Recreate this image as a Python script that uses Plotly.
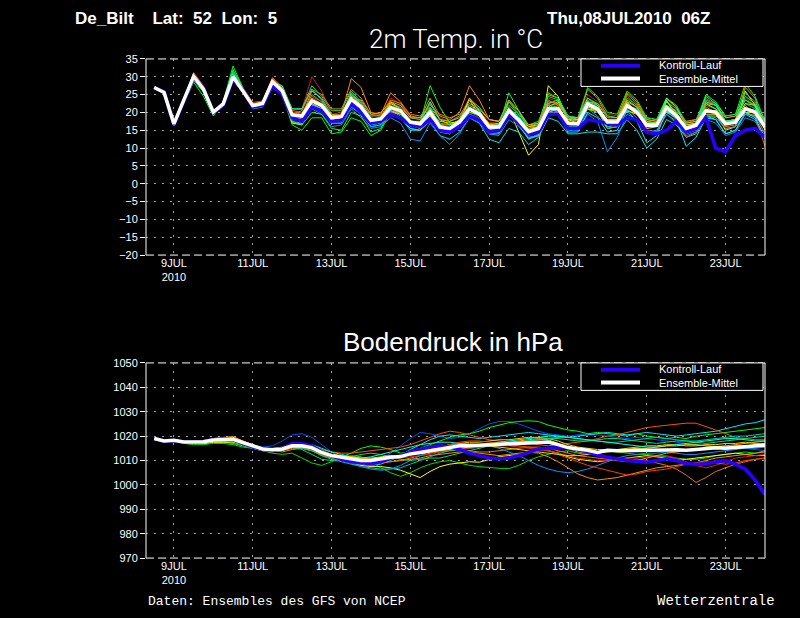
import pandas as pd
import plotly.graph_objects as go

# 6-hourly forecast steps, GFS ensemble run of 08JUL2010 06Z
times = pd.date_range("2010-07-08 12:00", periods=63, freq="6h")

tick_days = ["2010-07-09", "2010-07-11", "2010-07-13", "2010-07-15",
             "2010-07-17", "2010-07-19", "2010-07-21", "2010-07-23"]
tick_labels = ["9JUL<br>2010", "11JUL", "13JUL", "15JUL", "17JUL", "19JUL", "21JUL", "23JUL"]

# ---- 2m temperature (deg C) ----
t_mean = [27.0,25.6,16.8,23.3,30.1,26.5,20.1,22.4,30.0,26.0, 21.9,22.5,28.6,26.0,19.3,19.0,23.3,22.0,18.5,18.9,
          23.7,21.5,17.8,18.2,21.4,20.5,17.3,16.8,20.1,15.9, 15.5,17.3,21.0,19.6,15.9,15.9,20.5,17.8,14.6,15.5,
          21.0,21.0,17.0,16.8,22.4,21.0,17.3,17.3,21.9,20.1, 16.4,16.4,21.4,19.1,15.5,16.4,20.5,20.1,16.8,17.3,
          21.0,20.1,15.9]
t_ctrl = [27.0,25.8,16.5,23.0,29.8,26.8,20.0,22.0,29.5,26.3, 21.5,22.0,27.5,25.0,18.5,17.5,21.5,20.5,17.5,17.8,
          22.5,20.0,17.0,17.5,19.5,18.5,16.5,16.0,18.0,15.0, 14.5,16.0,19.0,18.0,14.5,15.0,19.5,17.0,14.0,14.5,
          19.5,19.5,15.5,15.5,18.0,17.5,17.0,16.5,18.5,18.0, 14.5,14.0,15.0,17.5,14.5,15.5,18.5,10.0,9.0,13.5,
          15.0,15.5,13.0]
t01 = [26.8,25.4,16.5,23.6,30.8,27.0,20.5,22.0,30.4,26.5, 22.4,23.0,29.5,27.0, 20.5,21.0,30.0,26.0,19.5,20.0,
       24.5,23.0,19.0,19.5,24.0,22.5,18.5,18.0,23.0,18.5, 17.5,19.0,24.0,21.5,17.0,17.5,23.5,20.0,16.5,17.0,
       24.0,23.0,19.0,18.5,25.0,23.0,19.5,19.0,24.5,22.0, 18.5,18.0,24.0,21.0,17.0,18.0,23.5,22.0,18.5,19.0,
       24.0,22.0,17.5]
t02 = [27.0,25.8,16.2,23.0,30.5,26.8,19.8,22.6,30.8,26.2, 22.0,22.8,28.8,26.5, 19.0,19.5,24.0,22.5,19.0,19.5,
       29.5,27.0,20.0,19.5,25.5,23.0,19.0,18.5,24.0,19.0, 18.0,20.0,27.5,23.5,18.0,17.5,23.0,20.5,16.0,16.5,
       25.0,24.0,19.0,18.0,26.5,24.0,19.0,18.5,25.5,23.0, 18.0,17.5,24.0,21.5,16.0,17.0,23.0,22.0,17.5,18.0,
       27.0,24.0,15.0]
t03 = [26.8,25.5,16.9,23.5,29.8,26.0,20.3,22.8,29.6,25.8, 21.5,22.0,27.5,25.5, 17.0,16.5,22.5,21.0,17.0,18.0,
       24.5,21.0,17.0,18.5,23.0,21.0,16.5,15.5,21.0,15.0, 14.5,17.5,23.5,19.5,15.0,14.5,21.0,14.5,8.0,11.0,
       27.5,24.5,17.5,16.5,22.0,20.5,15.5,16.0,23.0,20.0, 15.5,16.0,23.5,19.0,14.5,15.5,21.0,19.5,15.0,16.0,
       26.0,22.0,15.0]
t04 = [27.0,25.5,17.0,22.5,28.5,24.5,19.0,23.0,33.0,27.0, 21.0,21.5,27.0,25.0, 16.5,15.0,18.5,18.5,14.0,14.5,
       18.5,17.5,13.5,15.0,20.0,19.5,16.5,17.0,27.5,21.5, 17.0,17.5,19.5,18.5,15.0,15.5,23.0,19.5,16.0,17.0,
       25.5,24.0,19.0,18.5,27.0,24.5,20.0,19.5,26.0,23.5, 18.5,18.0,24.0,22.0,17.0,17.5,25.0,23.0,19.0,19.5,
       28.0,24.5,17.5]
t05 = [27.2,25.7,16.6,23.2,29.5,26.0,20.5,22.2,29.0,25.5, 21.5,22.0,27.5,25.5, 19.5,18.5,21.5,20.5,17.0,17.0,
       21.5,19.5,16.0,16.5,19.5,18.5,15.0,15.0,17.5,13.5, 12.5,14.5,18.5,17.0,12.5,11.5,15.5,14.5,11.0,13.0,
       18.5,17.5,14.0,14.0,14.5,14.5,14.0,14.0,18.0,15.0, 10.0,12.5,18.0,16.5,13.0,14.0,19.0,18.0,14.0,15.0,
       19.5,18.0,12.5]
t06 = [26.9,25.6,16.7,23.4,30.0,26.4,20.0,22.3,29.8,25.9, 21.8,22.3,28.0,25.5, 17.5,17.0,21.0,19.5,16.0,16.5,
       21.0,18.5,15.5,16.0,18.5,17.0,12.5,12.0,17.0,13.5, 11.0,14.0,18.5,17.0,14.0,13.5,18.0,16.0,13.0,13.5,
       21.0,20.0,15.5,15.0,19.5,17.5,9.0,13.0,19.5,18.0, 15.0,14.5,19.5,17.0,13.5,14.5,18.0,17.0,13.5,14.5,
       18.5,17.5,12.5]
t07 = [27.1,25.8,16.4,23.6,31.0,27.2,20.6,22.0,30.5,26.8, 22.5,22.8,29.5,27.0, 20.0,19.5,23.0,22.0,18.0,18.5,
       22.5,21.5,17.0,17.5,20.0,20.0,16.5,15.5,19.0,14.5, 14.0,16.0,21.5,20.5,14.5,15.0,20.0,17.0,12.5,14.0,
       22.5,22.0,16.5,16.0,23.5,21.5,16.0,16.5,22.5,20.5, 15.0,14.5,21.5,19.0,13.0,14.5,20.5,19.5,15.5,16.0,
       22.0,19.0,10.5]
t08 = [27.0,25.6,17.2,23.0,29.0,25.8,19.5,22.8,31.5,26.8, 22.0,22.5,27.5,26.5, 21.0,21.0,27.5,24.5,20.5,20.5,
       26.0,23.0,19.0,19.0,22.5,21.5,18.5,18.0,22.5,18.0, 17.5,19.0,23.5,21.5,18.0,17.5,22.0,19.5,16.5,17.5,
       24.5,23.5,19.0,18.5,24.0,22.5,19.0,18.5,24.0,22.0, 18.5,18.0,23.0,21.0,17.5,18.0,23.5,22.5,19.0,19.5,
       25.5,23.0,18.0]
t09 = [26.9,25.5,16.6,23.2,30.3,26.6,20.2,22.5,30.2,26.3, 22.2,22.7,28.0,25.8, 18.0,18.5,23.0,21.5,19.0,19.5,
       25.0,22.0,18.0,18.5,20.5,19.5,17.5,17.0,19.0,16.5, 16.5,17.5,24.0,20.5,16.5,16.0,19.0,17.0,14.0,15.0,
       20.0,20.0,18.0,18.0,21.0,20.5,17.5,17.5,20.5,19.5, 17.0,17.0,20.0,18.5,16.0,16.5,19.0,19.0,17.0,17.5,
       20.0,19.0,16.0]
t10 = [27.0,25.7,16.9,23.3,29.6,26.2,20.0,22.6,29.5,25.6, 21.6,22.2,28.2,25.8, 19.5,19.0,25.0,23.0,18.5,18.0,
       23.0,21.0,17.0,17.5,21.5,20.5,16.5,16.0,21.0,16.0, 15.0,16.5,20.0,19.0,15.5,15.5,21.5,18.0,13.5,14.5,
       20.0,21.0,16.0,16.0,21.5,20.5,16.0,16.5,22.0,20.0, 16.0,16.0,22.0,19.5,15.0,16.0,22.0,21.0,17.0,17.5,
       22.5,21.0,16.0]
t11 = [27.1,25.5,16.9,23.0,30.2,26.8,20.3,22.2,30.0,26.0, 22.0,22.5,29.0,26.5, 19.0,18.5,22.0,22.5,19.0,19.5,
       25.0,22.5,18.5,18.0,20.5,20.0,17.5,17.5,21.0,17.0, 16.5,17.0,21.0,19.5,17.0,16.5,20.5,18.0,15.0,16.0,
       21.0,21.0,18.0,17.5,22.5,21.0,18.0,18.0,25.0,22.5, 17.5,17.0,20.5,19.0,16.0,17.0,20.0,20.5,17.5,18.0,
       21.0,20.0,16.0]
t12 = [26.9,25.7,16.7,23.4,29.9,26.3,20.0,22.5,30.5,26.2, 21.8,22.6,28.5,25.9, 18.5,19.0,22.0,21.0,18.0,18.5,
       22.5,20.5,17.5,18.0,22.5,21.0,17.5,16.5,19.0,15.0, 15.5,18.0,21.0,19.0,15.0,16.0,20.5,18.5,15.5,16.0,
       21.5,23.0,18.0,17.0,21.5,20.5,17.5,18.0,23.5,21.5, 17.0,16.5,23.0,20.0,15.5,16.5,22.5,21.0,17.5,18.0,
       22.5,22.0,16.5]
t13 = [27.0,25.6,16.8,23.2,29.7,26.0,20.4,22.3,29.5,25.5, 21.0,22.0,28.0,25.5, 18.0,17.5,21.5,20.0,17.0,17.0,
       22.0,19.5,16.0,16.5,20.0,18.5,15.5,15.0,18.5,14.5, 14.0,16.0,19.5,18.0,14.5,14.5,19.0,16.5,13.0,13.5,
       22.5,20.0,15.0,15.0,21.0,19.0,15.5,16.0,21.0,18.5, 14.5,15.0,19.5,17.5,14.0,15.0,19.0,18.5,15.5,16.0,
       19.5,19.0,14.0]
t14 = [27.0,25.5,16.7,23.5,31.2,27.5,20.8,22.0,30.8,27.0, 22.8,23.2,29.8,27.2, 20.5,20.0,24.5,23.0,19.0,19.5,
       24.0,22.0,18.0,18.5,22.0,21.0,17.5,17.0,20.0,16.0, 15.5,17.0,21.0,19.5,16.0,16.0,21.5,18.5,14.5,15.0,
       21.5,21.0,17.0,16.5,22.5,21.5,17.0,17.5,22.5,20.5, 16.5,16.0,21.0,19.0,15.0,16.0,24.0,22.0,17.0,17.0,
       21.0,19.5,14.0]
t15 = [26.9,25.7,16.5,23.4,30.6,26.9,20.4,22.1,30.3,26.7, 22.4,22.9,29.2,26.8, 19.5,19.0,26.0,24.0,19.5,19.0,
       23.5,23.5,19.5,20.0,23.0,22.0,18.5,18.5,21.5,18.0, 17.5,18.5,22.5,21.0,18.0,17.5,23.5,20.5,16.5,17.0,
       23.0,22.5,18.5,18.5,23.0,22.5,18.5,18.5,23.0,21.5, 18.0,17.5,22.0,20.5,17.0,17.5,22.5,22.0,18.5,19.0,
       23.5,22.0,17.5]
t16 = [27.0,25.6,17.0,23.1,29.3,25.9,19.8,22.7,31.0,26.5, 21.5,22.0,28.5,27.5, 21.0,21.0,26.5,23.5,19.0,19.0,
       25.5,22.5,18.0,18.0,21.0,20.5,17.0,17.0,23.0,18.0, 16.5,18.0,22.0,20.5,16.5,16.5,21.0,19.0,15.0,16.0,
       22.5,23.5,18.5,18.0,24.0,22.0,17.5,17.0,22.0,21.0, 17.5,17.0,24.0,21.5,16.5,17.0,24.5,22.5,17.5,18.0,
       24.5,22.5,17.0]
t17 = [27.0,25.4,16.8,23.4,30.0,26.4,20.1,22.6,29.8,26.0, 22.0,22.6,28.5,26.0, 17.0,17.0,23.5,22.0,18.0,18.5,
       23.0,21.5,18.0,18.0,21.0,20.0,17.5,17.5,20.0,17.5, 17.0,17.5,20.0,19.5,16.5,17.0,20.0,18.5,16.0,16.5,
       20.0,20.0,18.0,18.0,21.0,20.0,18.0,18.0,20.5,19.5, 17.0,17.0,20.5,19.0,16.5,17.0,19.5,19.5,17.0,17.5,
       20.0,20.0,16.5]
t18 = [27.0,25.7,16.6,23.3,30.4,26.7,20.2,22.3,30.1,26.1, 22.1,22.6,28.8,26.3, 19.5,20.5,26.5,25.0,21.0,21.0,
       26.5,24.0,19.5,19.0,23.5,22.5,19.5,19.0,22.0,19.5, 18.5,19.5,21.0,20.0,16.5,16.0,19.0,18.0,15.5,16.5,
       23.5,22.0,18.5,17.5,22.0,21.0,17.0,17.0,21.5,19.5, 16.0,16.5,20.5,19.5,17.5,18.0,21.5,20.0,16.0,16.5,
       21.5,20.5,16.0]
t19 = [27.0,25.6,16.9,23.0,29.2,25.7,19.6,22.9,32.0,26.9, 21.3,21.8,27.3,25.2, 17.5,16.5,20.0,19.5,15.5,15.0,
       20.0,19.0,14.5,15.5,21.0,20.0,16.0,16.0,21.5,16.5, 15.5,17.0,21.5,19.5,15.5,16.0,25.5,20.5,15.0,16.0,
       22.0,21.5,17.0,17.0,23.0,22.0,17.5,17.0,22.5,20.5, 16.5,16.5,22.0,20.0,15.5,16.5,23.0,22.0,17.5,18.0,
       23.5,21.5,15.5]
t20 = [27.1,25.6,16.7,23.2,29.6,26.1,20.3,22.4,29.3,25.7, 21.4,22.1,27.8,25.4, 18.5,18.0,22.5,21.0,17.5,17.5,
       23.0,20.5,16.5,17.0,20.5,19.0,15.5,15.0,19.5,15.0, 14.0,16.0,19.5,17.5,14.0,14.0,19.5,16.5,12.5,13.5,
       20.5,19.5,14.5,14.5,20.0,18.5,14.5,15.0,20.5,17.5, 11.5,13.5,20.5,18.0,10.5,13.0,18.5,18.0,14.0,15.0,
       20.0,18.5,13.0]
temp_members = [t01, t02, t03, t04, t05, t06, t07, t08, t09, t10,
                t11, t12, t13, t14, t15, t16, t17, t18, t19, t20]
temp_colors = ["#c81e1e", "#ff8c00", "#ffff00", "#00ff00", "#00e6e6", "#0096ff", "#ff5000", "#00dc78",
               "#ffc800", "#00c8aa", "#e67800", "#a0ff00", "#00b4ff", "#ff3c00", "#ffa000", "#00ffb4",
               "#dcdc00", "#ff7800", "#00ff50", "#1ee6ff"]

# ---- surface pressure (hPa) ----
p_mean = [1019.0,1018.0,1018.3,1017.6,1017.6,1017.7,1018.4,1018.7,1018.7,1017.3, 1016.0,1014.7,1014.4,1014.7,1016.0,1016.0,1015.3,1013.3,1012.0,1011.3,
          1010.7,1010.0,1010.0,1010.7,1011.3,1011.6,1012.7,1013.3,1014.0,1014.7, 1015.6,1016.0,1016.0,1016.2,1016.6,1016.7,1016.8,1017.0,1017.5,1017.7,
          1017.6,1016.5,1015.3,1014.7,1014.2,1013.3,1014.2,1014.0,1014.0,1014.0, 1014.0,1014.2,1014.3,1014.4,1014.2,1014.5,1014.8,1015.2,1015.0,1015.4,
          1015.6,1016.0,1016.3]
p_ctrl = [1019.0,1018.0,1018.2,1017.5,1017.5,1017.8,1018.5,1018.8,1018.5,1017.0, 1015.5,1014.5,1014.0,1015.0,1017.0,1017.0,1016.0,1013.5,1012.0,1010.5,
          1009.5,1009.0,1008.7,1009.5,1011.0,1012.0,1013.5,1014.5,1015.5,1016.0, 1015.5,1014.5,1013.0,1012.0,1011.0,1010.7,1011.0,1012.0,1013.5,1014.7,
          1015.0,1015.3,1015.3,1014.5,1013.3,1012.3,1011.3,1010.5,1010.0,1009.7, 1009.3,1010.0,1010.7,1010.0,1008.7,1008.5,1008.7,1009.5,1010.0,1008.5,
          1006.5,1002.0,996.0]
p01 = [1019.2,1018.3,1018.0,1017.2,1017.8,1018.0,1018.8,1019.5,1019.0,1017.5, 1016.5,1015.5,1016.0,1018.0,1020.5,1021.0,1019.5,1016.5,1013.5,1011.0,
       1009.0,1008.0,1008.5,1010.5,1013.0,1016.0,1019.0,1021.5,1021.0,1020.0, 1019.0,1019.5,1021.0,1023.0,1025.0,1026.0,1026.0,1025.0,1023.5,1022.0,
       1021.0,1020.5,1020.0,1020.5,1021.0,1020.5,1020.0,1019.5,1019.0,1019.5, 1019.0,1018.5,1018.0,1017.5,1017.0,1016.5,1016.0,1016.5,1016.0,1015.5,
       1015.0,1014.5,1014.0]
p02 = [1019.0,1017.8,1018.5,1017.8,1017.0,1016.8,1017.5,1017.5,1017.0,1016.0, 1015.0,1014.5,1015.0,1015.5,1015.5,1015.0,1014.0,1012.0,1011.0,1011.5,
       1013.0,1015.0,1016.0,1015.5,1014.5,1013.0,1013.5,1015.0,1016.5,1018.0, 1019.5,1020.5,1021.0,1022.0,1023.5,1024.5,1025.5,1026.0,1026.3,1026.0,
       1024.5,1023.5,1022.5,1022.0,1021.0,1021.5,1021.0,1020.5,1020.0,1021.0, 1020.0,1019.5,1019.0,1019.5,1019.0,1020.0,1020.5,1021.0,1021.5,1022.0,
       1022.5,1023.0,1023.5]
p03 = [1019.0,1018.2,1018.0,1017.0,1016.5,1016.5,1017.0,1017.0,1016.5,1015.5, 1015.0,1014.0,1013.0,1012.5,1013.0,1011.0,1009.0,1008.0,1009.5,1011.0,
       1012.0,1011.5,1009.5,1007.0,1005.0,1003.5,1005.0,1007.0,1008.5,1009.5, 1010.0,1009.0,1008.0,1007.5,1007.0,1006.8,1006.7,1008.0,1010.0,1011.5,
       1012.5,1013.5,1014.0,1013.0,1012.5,1013.0,1014.0,1013.5,1013.0,1012.5, 1012.5,1012.0,1011.5,1011.0,1010.5,1010.5,1011.0,1012.0,1012.5,1013.0,
       1013.5,1013.0,1014.0]
p04 = [1019.0,1018.0,1018.5,1017.8,1017.2,1017.0,1017.5,1017.5,1017.5,1016.5, 1015.0,1014.0,1013.5,1014.5,1015.5,1015.5,1015.0,1013.5,1012.0,1010.5,
       1009.0,1008.0,1007.5,1007.5,1007.0,1006.0,1004.5,1003.0,1005.5,1007.5, 1008.5,1009.0,1009.5,1009.3,1010.5,1011.5,1012.0,1012.5,1013.5,1014.5,
       1014.0,1013.0,1011.5,1010.5,1010.0,1009.5,1010.0,1010.5,1011.0,1011.5, 1012.0,1011.5,1011.0,1010.5,1010.5,1011.0,1011.5,1012.0,1012.5,1013.0,
       1012.5,1012.0,1012.0]
p05 = [1019.0,1018.0,1018.2,1017.5,1017.8,1018.0,1018.8,1019.2,1019.0,1017.8, 1016.5,1015.0,1014.5,1014.5,1015.5,1016.0,1015.5,1013.0,1011.5,1010.0,
       1009.0,1008.5,1008.0,1008.5,1010.0,1012.0,1014.5,1016.5,1018.5,1020.0, 1020.5,1020.0,1019.5,1019.0,1019.5,1020.0,1020.5,1021.0,1021.5,1021.0,
       1020.5,1020.0,1019.5,1020.0,1020.5,1021.0,1021.5,1021.0,1020.5,1021.0, 1021.5,1021.0,1020.5,1020.0,1020.5,1021.0,1021.5,1022.0,1023.0,1024.0,
       1025.0,1025.5,1026.7]
p06 = [1019.0,1018.2,1018.0,1017.5,1017.5,1018.0,1019.0,1019.5,1019.5,1018.0, 1016.5,1015.0,1014.0,1013.5,1014.5,1015.0,1014.0,1012.5,1011.5,1011.0,
       1010.5,1010.0,1009.5,1009.0,1009.5,1010.0,1010.5,1011.0,1012.0,1012.5, 1013.0,1013.5,1013.5,1013.0,1012.5,1012.0,1012.5,1013.0,1013.5,1013.0,
       1011.5,1009.5,1007.0,1004.5,1003.0,1002.0,1002.5,1003.0,1004.0,1005.0, 1006.0,1007.0,1007.5,1008.0,1008.5,1009.0,1010.0,1011.0,1011.5,1012.0,
       1012.5,1013.0,1013.5]
p07 = [1019.0,1018.0,1018.3,1017.8,1017.8,1018.0,1018.8,1019.0,1019.0,1017.8, 1016.5,1015.0,1014.5,1015.0,1016.5,1016.5,1016.0,1014.5,1013.5,1013.0,
       1013.0,1013.5,1014.0,1014.5,1015.0,1015.5,1016.5,1018.0,1019.5,1021.0, 1022.0,1021.5,1020.5,1019.5,1018.5,1018.0,1017.5,1017.5,1017.0,1016.5,
       1016.0,1016.5,1017.0,1017.5,1018.0,1019.0,1020.0,1020.5,1021.5,1022.5, 1023.5,1024.0,1024.5,1025.0,1025.3,1025.3,1024.0,1022.5,1021.0,1019.5,
       1019.0,1018.5,1018.5]
p08 = [1019.0,1018.0,1018.0,1017.5,1017.5,1017.5,1018.2,1018.5,1018.5,1017.0, 1015.5,1014.5,1014.0,1014.0,1015.0,1015.0,1014.5,1012.5,1011.0,1010.0,
       1009.0,1008.5,1008.5,1009.0,1009.5,1010.0,1011.0,1012.0,1013.0,1013.5, 1014.0,1014.5,1014.0,1013.5,1013.5,1014.0,1014.5,1015.0,1015.5,1015.5,
       1015.0,1014.0,1013.0,1012.0,1011.5,1011.0,1010.5,1010.0,1010.0,1010.5, 1010.0,1009.0,1008.0,1006.5,1004.0,1001.0,1003.0,1005.5,1007.0,1008.5,
       1009.5,1010.5,1011.0]
p09 = [1019.0,1018.2,1018.5,1017.8,1017.5,1017.8,1018.5,1019.0,1019.0,1017.5, 1016.0,1014.5,1014.0,1014.5,1016.0,1016.5,1016.0,1014.0,1012.5,1011.5,
       1011.0,1010.5,1010.5,1011.0,1011.5,1012.0,1013.0,1014.0,1014.5,1015.5, 1016.5,1017.0,1017.5,1017.5,1018.0,1018.5,1018.5,1019.0,1019.5,1019.5,
       1019.0,1018.0,1016.5,1015.5,1015.0,1014.5,1014.5,1014.5,1015.0,1015.5, 1016.0,1016.0,1016.5,1016.5,1016.0,1016.0,1016.5,1016.5,1017.0,1017.0,
       1017.5,1017.0,1017.0]
p10 = [1019.0,1018.0,1018.3,1017.5,1017.5,1017.5,1018.0,1018.5,1018.5,1017.2, 1016.0,1014.8,1014.5,1014.8,1015.5,1015.0,1014.0,1012.0,1010.5,1009.5,
       1008.5,1007.5,1007.0,1006.5,1006.5,1007.0,1008.5,1010.0,1011.5,1013.0, 1014.0,1014.5,1015.0,1015.5,1016.0,1016.5,1017.0,1017.5,1018.0,1018.5,
       1019.0,1019.5,1019.5,1019.0,1018.5,1018.0,1017.5,1017.5,1018.0,1018.5, 1019.0,1019.5,1019.0,1018.5,1018.0,1018.0,1018.5,1019.0,1019.5,1020.0,
       1020.0,1020.5,1021.0]
p11 = [1019.0,1018.0,1018.2,1017.6,1017.7,1017.8,1018.5,1018.8,1018.8,1017.5, 1016.0,1014.5,1014.0,1014.5,1016.0,1016.0,1015.0,1013.0,1011.5,1010.5,
       1009.5,1009.0,1009.5,1010.5,1011.0,1011.0,1011.5,1012.0,1012.5,1013.5, 1014.5,1015.0,1015.0,1015.5,1016.0,1016.0,1016.0,1015.5,1015.0,1014.5,
       1014.0,1013.0,1012.0,1011.0,1010.5,1010.0,1010.0,1010.5,1011.0,1011.0, 1011.5,1012.0,1012.0,1011.0,1009.5,1008.0,1007.0,1008.0,1009.5,1011.0,
       1011.5,1012.0,1012.5]
p12 = [1019.0,1018.1,1018.4,1017.7,1017.6,1017.6,1018.3,1018.6,1018.6,1017.3, 1016.0,1015.0,1014.8,1015.5,1017.0,1017.0,1016.0,1014.0,1012.0,1010.5,
       1009.0,1007.5,1006.5,1006.0,1006.5,1008.0,1010.0,1012.0,1014.0,1015.5, 1016.5,1017.0,1017.0,1016.5,1016.0,1015.0,1013.5,1012.0,1010.0,1008.0,
       1006.5,1005.5,1005.0,1005.5,1006.5,1008.0,1009.5,1011.0,1012.0,1012.5, 1013.0,1013.0,1013.5,1013.0,1012.5,1012.5,1013.0,1013.5,1014.0,1014.5,
       1015.0,1015.0,1015.5]
p13 = [1019.0,1018.0,1018.3,1017.7,1017.5,1017.3,1017.8,1018.0,1018.0,1016.8, 1015.5,1014.5,1014.5,1015.0,1015.5,1014.5,1012.5,1010.5,1010.0,1010.5,
       1011.5,1012.5,1013.0,1012.5,1011.5,1010.5,1010.0,1010.5,1011.0,1011.0, 1012.0,1013.0,1014.0,1015.0,1016.0,1016.5,1017.0,1017.5,1018.0,1018.5,
       1019.0,1019.0,1018.5,1018.0,1018.0,1018.5,1019.0,1019.0,1018.5,1018.0, 1017.5,1017.0,1017.5,1018.0,1018.0,1017.5,1017.0,1017.5,1018.0,1018.5,
       1019.0,1019.5,1020.0]
p14 = [1019.0,1018.1,1018.1,1017.5,1017.9,1018.2,1019.0,1019.5,1019.8,1018.0, 1016.2,1014.8,1014.5,1014.3,1015.5,1016.0,1015.8,1014.0,1012.5,1011.8,
       1011.0,1010.5,1010.5,1011.0,1011.5,1012.0,1013.0,1013.5,1014.5,1015.0, 1015.5,1016.0,1016.5,1016.5,1016.5,1017.0,1017.5,1018.0,1018.5,1019.0,
       1018.5,1017.0,1015.0,1013.5,1013.0,1012.0,1011.0,1010.0,1009.5,1010.0, 1011.0,1012.0,1013.0,1013.5,1014.0,1014.5,1015.0,1015.5,1016.0,1016.5,
       1017.0,1017.5,1018.0]
p15 = [1019.0,1017.9,1018.2,1017.5,1017.4,1017.5,1018.2,1018.5,1018.5,1017.0, 1015.5,1014.2,1013.8,1014.2,1015.8,1016.5,1016.5,1015.0,1013.5,1012.5,
       1011.5,1011.0,1011.5,1012.5,1013.5,1014.5,1015.5,1016.5,1017.0,1017.5, 1017.5,1017.0,1016.5,1016.5,1017.0,1017.5,1018.0,1018.5,1019.0,1019.5,
       1020.0,1020.0,1019.5,1019.0,1018.5,1018.0,1017.5,1017.0,1016.5,1016.0, 1015.5,1015.5,1016.0,1016.5,1017.0,1017.5,1018.0,1018.5,1019.0,1019.0,
       1018.5,1018.0,1018.0]
p16 = [1019.0,1018.0,1018.4,1017.8,1017.6,1017.7,1018.5,1018.9,1018.9,1017.6, 1016.3,1015.0,1014.6,1014.8,1016.3,1016.5,1015.5,1013.5,1012.5,1012.0,
       1011.5,1011.0,1010.5,1010.5,1011.0,1011.5,1012.5,1013.5,1014.5,1015.5, 1016.5,1017.5,1018.0,1018.0,1017.5,1017.0,1016.5,1016.0,1015.5,1015.0,
       1014.0,1012.5,1011.0,1009.5,1008.0,1007.0,1006.0,1005.0,1004.0,1004.5, 1005.5,1006.0,1006.5,1007.5,1008.5,1009.0,1009.5,1009.0,1008.5,1009.0,
       1010.0,1010.5,1011.0]
p17 = [1019.0,1018.0,1018.2,1017.6,1017.6,1017.6,1018.3,1018.6,1018.6,1017.3, 1016.0,1014.7,1014.4,1014.6,1015.5,1015.5,1015.0,1013.5,1012.5,1012.0,
       1011.5,1011.0,1011.0,1011.5,1012.0,1012.0,1012.5,1013.0,1013.5,1014.0, 1014.5,1015.0,1015.5,1016.0,1016.0,1015.5,1015.0,1014.5,1014.0,1013.5,
       1013.0,1012.5,1012.0,1012.0,1012.5,1013.0,1013.5,1014.0,1014.5,1015.0, 1015.0,1015.5,1016.0,1016.0,1016.5,1016.5,1016.0,1015.5,1015.5,1016.0,
       1016.0,1016.5,1016.5]
pres_members = [p01, p02, p03, p04, p05, p06, p07, p08, p09, p10, p11, p12, p13, p14, p15, p16, p17]
pres_colors = ["#0050ff", "#00ff00", "#00dc00", "#ffff00", "#00e6ff", "#ff8c00", "#ff5000", "#e67800",
               "#ffc800", "#00c8aa", "#dc1e1e", "#0096ff", "#00dc78", "#ffa000", "#00ffc8", "#ff3c00", "#dcdc00"]

legend_names = ["Kontroll-Lauf", "Ensemble-Mittel"]

CTRL_COLOR = "#2800ff"
W, H = 800, 618
x_dom = [146 / W, 765 / W]
top_dom = [(H - 254) / H, (H - 54) / H]
bot_dom = [(H - 563) / H, (H - 364) / H]

fig = go.Figure()

for vals, col in zip(temp_members, temp_colors):
    fig.add_trace(go.Scatter(x=times, y=vals, mode="lines", line=dict(color=col, width=1),
                             showlegend=False, hoverinfo="skip", xaxis="x", yaxis="y"))
fig.add_trace(go.Scatter(x=times, y=t_ctrl, mode="lines", name=legend_names[0], showlegend=False,
                         line=dict(color=CTRL_COLOR, width=3.5), xaxis="x", yaxis="y"))
fig.add_trace(go.Scatter(x=times, y=t_mean, mode="lines", name=legend_names[1], showlegend=False,
                         line=dict(color="white", width=3.5), xaxis="x", yaxis="y"))

for vals, col in zip(pres_members, pres_colors):
    fig.add_trace(go.Scatter(x=times, y=vals, mode="lines", line=dict(color=col, width=1),
                             showlegend=False, hoverinfo="skip", xaxis="x2", yaxis="y2"))
fig.add_trace(go.Scatter(x=times, y=p_ctrl, mode="lines", name=legend_names[0], showlegend=False,
                         line=dict(color=CTRL_COLOR, width=3.5), xaxis="x2", yaxis="y2"))
fig.add_trace(go.Scatter(x=times, y=p_mean, mode="lines", name=legend_names[1], showlegend=False,
                         line=dict(color="white", width=3.5), xaxis="x2", yaxis="y2"))

tickfont = dict(family="Liberation Sans, Arial, sans-serif", size=11, color="white")
grid = dict(showgrid=True, gridcolor="#a0a0a0", griddash="2px,6px", gridwidth=1, zeroline=False)
xcommon = dict(type="date", range=["2010-07-08 07:00", "2010-07-24 00:00"],
               tickvals=tick_days, ticktext=tick_labels, tickfont=tickfont,
               ticks="", showline=False, domain=x_dom, **grid)
ycommon = dict(tickfont=tickfont, ticks="outside", ticklen=5, tickcolor="white",
               showline=False, **grid)

fig.update_layout(
    width=W, height=H,
    paper_bgcolor="black", plot_bgcolor="black",
    margin=dict(l=0, r=0, t=0, b=0),
    showlegend=False,
    xaxis=dict(anchor="y", **xcommon),
    yaxis=dict(anchor="x", domain=top_dom, range=[-20, 35], dtick=5, **ycommon),
    xaxis2=dict(anchor="y2", **xcommon),
    yaxis2=dict(anchor="x2", domain=bot_dom, range=[970, 1050], dtick=10, **ycommon),
)

# frame: solid left/right, dashed top/bottom
for xr, yr in (("x domain", "y domain"), ("x2 domain", "y2 domain")):
    for x0, y0, x1, y1, dash in ((0, 0, 0, 1, "solid"), (1, 0, 1, 1, "solid"),
                                 (0, 1, 1, 1, "8px,4px"), (0, 0, 1, 0, "8px,4px")):
        fig.add_shape(type="line", xref=xr, yref=yr, x0=x0, y0=y0, x1=x1, y1=y1,
                      line=dict(color="white", width=1, dash=dash), layer="above")

# legend boxes in the upper right corner of each panel (pixel positions)
def px(x, y):
    return x / W, 1 - y / H

legend_font = dict(family="Liberation Sans, Arial", size=11, color="white")
for top in (54, 364):
    x0, y0 = px(581, top)
    x1, y1 = px(763, top + 28)
    fig.add_shape(type="rect", xref="paper", yref="paper", x0=x0, y0=y0, x1=x1, y1=y1,
                  line=dict(color="white", width=1), fillcolor="black", layer="above")
    for k, col in enumerate([CTRL_COLOR, "white"]):
        yy = top + 7 + k * 13
        lx0, ly = px(601, yy)
        lx1, _ = px(640, yy)
        fig.add_shape(type="line", xref="paper", yref="paper", x0=lx0, y0=ly, x1=lx1, y1=ly,
                      line=dict(color=col, width=4), layer="above")
    tx, ty = px(657, top + 13.5)
    fig.add_annotation(text="<br>".join(legend_names), x=tx, y=ty, xref="paper", yref="paper",
                       xanchor="left", yanchor="middle", align="left", showarrow=False,
                       font=legend_font)

bold = dict(family="Liberation Sans, Arial", size=17, color="white", weight="bold")
texts = [
    ("De_Bilt&nbsp;&nbsp;&nbsp;&nbsp;Lat:&nbsp;&nbsp;52&nbsp;&nbsp;Lon:&nbsp;&nbsp;5", 73, 13, "left", bold),
    ("Thu,08JUL2010&nbsp;&nbsp;06Z", 545, 13, "left", bold),
    ("2m Temp. in °C", 456, 34, "center", dict(family="Roboto, Liberation Sans", size=26, color="white", weight=300)),
    ("Bodendruck in hPa", 453, 343, "center", dict(family="Liberation Sans, Arial", size=26, color="white")),
    ("Daten: Ensembles des GFS von NCEP", 146, 607, "left", dict(family="Liberation Mono, DejaVu Sans Mono", size=13, color="white")),
    ("Wetterzentrale", 655, 607, "left", dict(family="Liberation Mono, DejaVu Sans Mono", size=14, color="white")),
]
for txt, px_x, px_y, anchor, font in texts:
    ax, ay = px(px_x, px_y)
    fig.add_annotation(text=txt, x=ax, y=ay, xref="paper", yref="paper",
                       xanchor=anchor, yanchor="middle", showarrow=False, font=font)

fig.write_html(
    "out.html",
    config={"displayModeBar": False},
    post_script="document.body.style.margin='0';"
                "document.body.style.overflow='hidden';"
                "document.documentElement.style.overflow='hidden';",
)
